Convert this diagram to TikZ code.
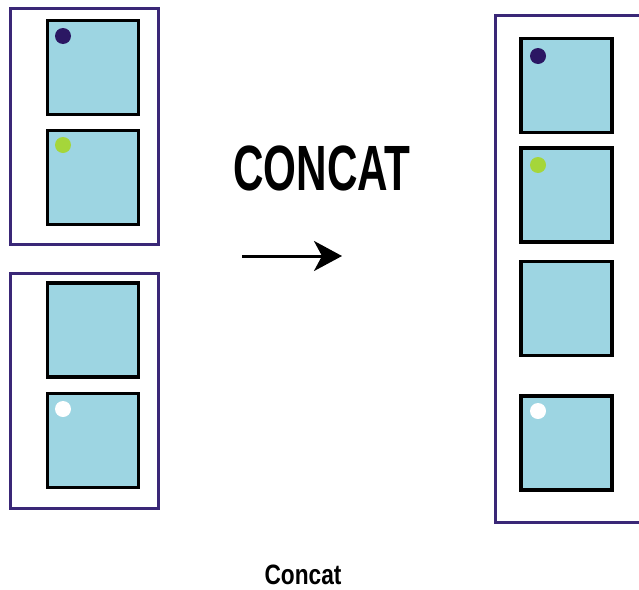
\documentclass[tikz,border=0pt]{standalone}
\usepackage{fontspec}
\setmainfont{Liberation Sans}
\usetikzlibrary{arrows.meta}
\definecolor{cellblue}{HTML}{9DD5E2}
\definecolor{framepurple}{HTML}{3A2777}
\definecolor{dotdark}{HTML}{2B1763}
\definecolor{dotgreen}{HTML}{A5D63A}
\tikzset{
  cell/.style={draw=black, line width=3.2pt, fill=cellblue, minimum width=91pt, minimum height=94pt, inner sep=0pt},
  frm/.style={draw=framepurple, line width=3pt, inner sep=0pt},
  dot/.style={circle, inner sep=0pt, minimum size=16pt},
}
\begin{document}
\begin{tikzpicture}[x=1pt,y=-1pt]
\useasboundingbox (0,0) rectangle (639,589);
% left top group
\node[frm, minimum width=148pt, minimum height=236pt] (FA) at (84,126) {};
\node[cell] (A1) at (93,67.5) {};
\node[cell] (A2) at (93,177.5) {};
\node[dot, fill=dotdark] (dA1) at (63,36) {};
\node[dot, fill=dotgreen] (dA2) at (63,145) {};
% left bottom group
\node[frm, minimum width=148pt, minimum height=235pt] (FB) at (84,390.5) {};
\node[cell] (B1) at (93,330) {};
\node[cell] (B2) at (93,440.5) {};
\node[dot, fill=white] (dB2) at (63,409) {};
% right group frame (open to the right edge)
\draw[draw=framepurple, line width=3pt] (641,15) -- (495,15) -- (495,522) -- (641,522);
\node[cell] (C1) at (566.5,85.5) {};
\node[cell] (C2) at (566.5,195) {};
\node[cell] (C3) at (566.5,308.5) {};
\node[cell] (C4) at (566.5,443) {};
\node[dot, fill=dotdark] (dC1) at (538,56) {};
\node[dot, fill=dotgreen] (dC2) at (538,165) {};
\node[dot, fill=white] (dC4) at (538,411) {};
% title and arrow
\node[inner sep=0pt, font=\bfseries\fontsize{64}{70}\selectfont, xscale=0.66] (T) at (322,168) {CONCAT};
\coordinate (ar0) at (242,256);
\coordinate (ar1) at (342,256);
\draw[line width=3pt, -{Stealth[length=28pt,width=30pt,inset=8pt]}] (ar0) -- (ar1);
% caption
\node[inner sep=0pt, font=\bfseries\fontsize{28}{32}\selectfont, xscale=0.81] (cap) at (303,575) {Concat};
\end{tikzpicture}
\end{document}
